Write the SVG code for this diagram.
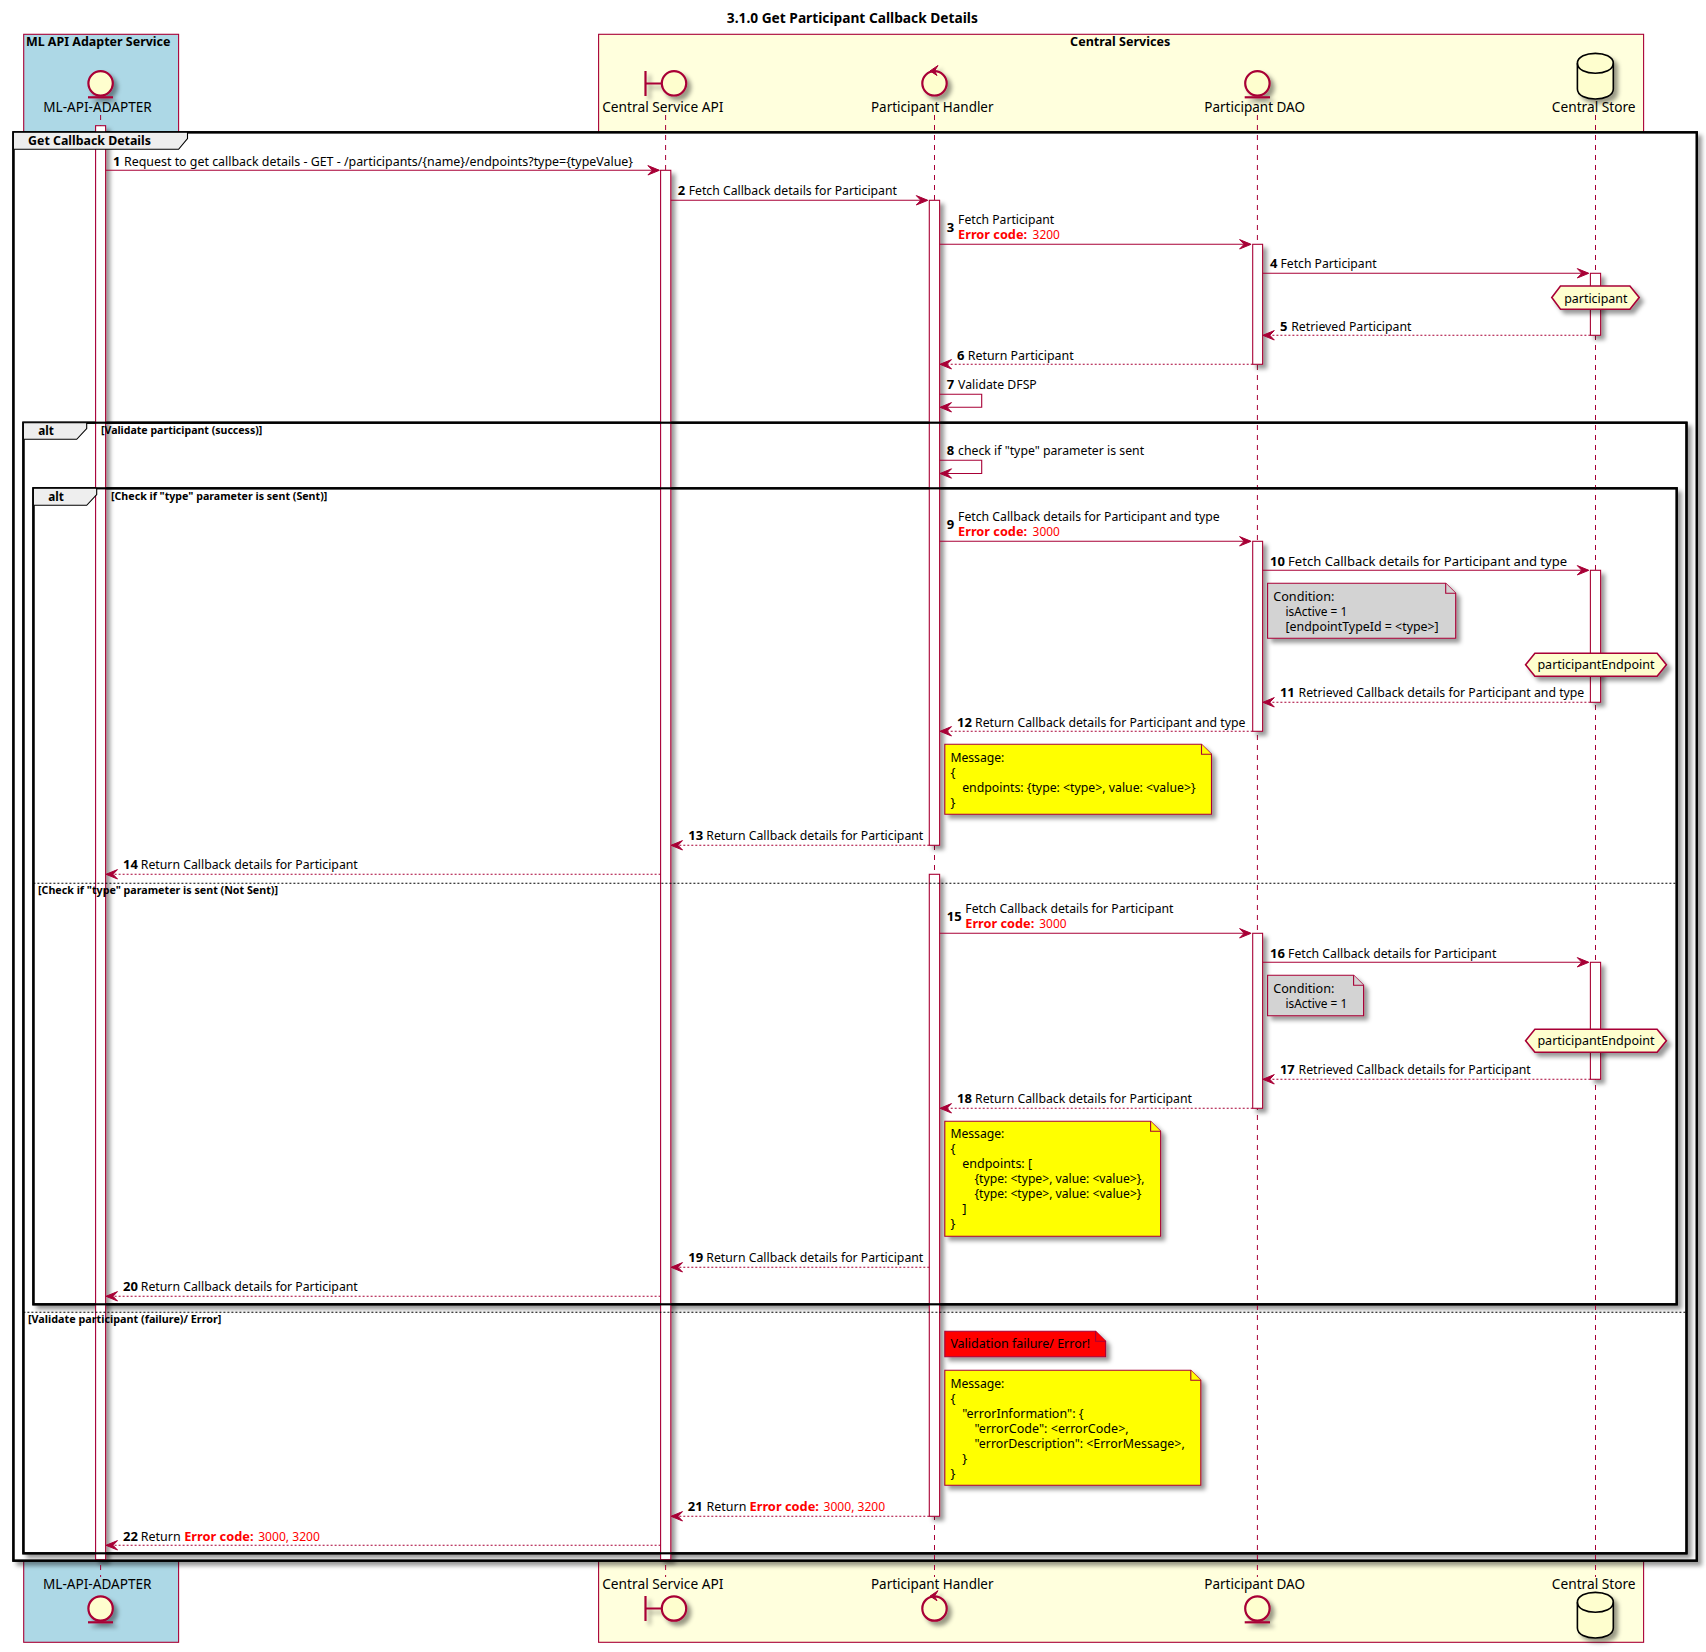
<svg xmlns="http://www.w3.org/2000/svg" width="1706" height="1652" viewBox="0 0 1706 1652">
<defs>
<filter id="sh" x="-1" y="-1" width="300%" height="300%"><feGaussianBlur stdDeviation="2" result="b"/><feColorMatrix in="b" result="c" type="matrix" values="0 0 0 0 0 0 0 0 0 0 0 0 0 0 0 0 0 0 .4 0"/><feOffset dx="4" dy="4" in="c" result="o"/><feBlend in="SourceGraphic" in2="o" mode="normal"/></filter>
<g id="arrR"><polygon points="-11.5,-4.7 0,0 -11.5,4.7 -7,0" fill="#A80036" stroke="#A80036"/></g>
<g id="arrL"><polygon points="11.5,-4.7 0,0 11.5,4.7 7,0" fill="#A80036" stroke="#A80036"/></g>
</defs>
<style>
text{font-family:"Noto Sans","Open Sans",sans-serif;font-size:13px;fill:#000}
.b{font-weight:700}
.t{font-size:14px;font-weight:700}
.g{font-size:11px;font-weight:700}
.a{font-size:14px}
.e{fill:#f00}
.l{fill:none;stroke:#A80036;stroke-width:1;stroke-dasharray:5 5}
.act{fill:#fff;stroke:#A80036;stroke-width:1.1}
.m{fill:none;stroke:#A80036;stroke-width:1.1}
.d{fill:none;stroke:#A80036;stroke-width:1.1;stroke-dasharray:2 2}
.bg{fill:#fff;stroke:#000;stroke-width:2.2}
.fr{fill:none;stroke:#000;stroke-width:2.2}
.tab{fill:#EEE;stroke:#000;stroke-width:1.1}
.dv{stroke:#000;stroke-width:1.1;stroke-dasharray:2 2}
.ic{fill:#FEFECE;stroke:#A80036;stroke-width:2.2}
.n{stroke:#A80036;stroke-width:1.1}
.h{fill:#FEFECE;stroke:#A80036;stroke-width:1.6}
</style>
<text class="t" x="726.8" y="23" textLength="251" lengthAdjust="spacingAndGlyphs" id="title">3.1.0 Get Participant Callback Details</text>
<g id="box-adapter"><rect x="23.7" y="34.3" width="154.9" height="1608" fill="#ADD8E6" stroke="#A80036" stroke-width="1.1"/><text class="b" x="25.9" y="46" textLength="144.6" lengthAdjust="spacingAndGlyphs">ML API Adapter Service</text></g>
<g id="box-central"><rect x="598.6" y="34.3" width="1045" height="1608" fill="#FFFFDD" stroke="#A80036" stroke-width="1.1"/><text class="b" x="1070.1" y="46" textLength="100.2" lengthAdjust="spacingAndGlyphs">Central Services</text></g>
<g id="frame-backs">
<rect class="bg" x="13.4" y="132.3" width="1683.4" height="1428.4" filter="url(#sh)"/>
<rect class="bg" x="23.4" y="422.7" width="1663.1" height="1130.6" filter="url(#sh)"/>
<rect class="bg" x="33.4" y="488.3" width="1643.3" height="816" filter="url(#sh)"/>
</g>
<g id="lifelines">
<path class="l" d="M100.6 115V1577M665.6 115V1577M934.5 115V1577M1257.4 115V1577M1595.5 115V1577"/>
</g>
<g id="activations" filter="url(#sh)">
<rect class="act" x="95.6" y="125.7" width="10" height="1434"/>
<rect class="act" x="660.6" y="170.3" width="10.2" height="1389.4"/>
<rect class="act" x="929.3" y="200.3" width="10.3" height="645"/>
<rect class="act" x="929.3" y="874.3" width="10.3" height="642"/>
<rect class="act" x="1252.7" y="244.3" width="9.9" height="120"/>
<rect class="act" x="1252.7" y="541.3" width="9.9" height="190"/>
<rect class="act" x="1252.7" y="933.3" width="9.9" height="175"/>
<rect class="act" x="1590.4" y="273.3" width="10.2" height="62"/>
<rect class="act" x="1590.4" y="570.3" width="10.2" height="132"/>
<rect class="act" x="1590.4" y="962.3" width="10.2" height="117"/>
</g>
<g id="frames">
<rect class="fr" x="13.4" y="132.3" width="1683.4" height="1428.4"/>
<path class="tab" d="M13.4 132.3H187.5V138.5L178.6 149.3H13.4Z"/>
<text class="b" x="28.1" y="145" textLength="122.8" lengthAdjust="spacingAndGlyphs">Get Callback Details</text>
<rect class="fr" x="23.4" y="422.7" width="1663.1" height="1130.6"/>
<path class="tab" d="M23.4 422.7H86.7V428.5L76.7 439.3H23.4Z"/>
<text class="b" x="38.3" y="435" textLength="15.7" lengthAdjust="spacingAndGlyphs">alt</text>
<text class="g" x="101" y="434" textLength="161.3" lengthAdjust="spacingAndGlyphs">[Validate participant (success)]</text>
<rect class="fr" x="33.4" y="488.3" width="1643.3" height="816"/>
<path class="tab" d="M33.4 488.3H96.7V494.5L86.7 505.3H33.4Z"/>
<text class="b" x="48.3" y="501" textLength="15.7" lengthAdjust="spacingAndGlyphs">alt</text>
<text class="g" x="111" y="500" textLength="216.3" lengthAdjust="spacingAndGlyphs">[Check if "type" parameter is sent (Sent)]</text>
<line class="dv" x1="33.4" y1="883.3" x2="1676.7" y2="883.3"/>
<text class="g" x="38" y="894" textLength="240" lengthAdjust="spacingAndGlyphs">[Check if "type" parameter is sent (Not Sent)]</text>
<line class="dv" x1="23.4" y1="1312.3" x2="1686.5" y2="1312.3"/>
<text class="g" x="28" y="1322.7" textLength="193.4" lengthAdjust="spacingAndGlyphs">[Validate participant (failure)/ Error]</text>
</g>
<g id="connectors">
<path class="m" d="M105.6 170.3H659"/><use href="#arrR" x="659.4" y="170.3"/>
<text class="b" x="113" y="165.7">1</text><text x="124" y="165.7" textLength="509" lengthAdjust="spacingAndGlyphs">Request to get callback details - GET - /participants/{name}/endpoints?type={typeValue}</text>
<path class="m" d="M670.8 200.3H927"/><use href="#arrR" x="927.8" y="200.3"/>
<text class="b" x="677.8" y="195">2</text><text x="688.7" y="195" textLength="208.2" lengthAdjust="spacingAndGlyphs">Fetch Callback details for Participant</text>
<path class="m" d="M939.6 244.3H1250"/><use href="#arrR" x="1251.1" y="244.3"/>
<text class="b" x="946.8" y="231.7">3</text><text x="958.1" y="224" textLength="96.1" lengthAdjust="spacingAndGlyphs">Fetch Participant</text><text class="b e" x="958.1" y="238.7" textLength="69" lengthAdjust="spacingAndGlyphs">Error code:</text><text class="e" x="1032.6" y="238.7" textLength="27.2" lengthAdjust="spacingAndGlyphs">3200</text>
<path class="m" d="M1262.6 273.3H1588"/><use href="#arrR" x="1588.8" y="273.3"/>
<text class="b" x="1270.1" y="267.7">4</text><text x="1280.5" y="267.7" textLength="96.1" lengthAdjust="spacingAndGlyphs">Fetch Participant</text>
<path class="d" d="M1590.4 335.3H1264"/><use href="#arrL" x="1262.8" y="335.3"/>
<text class="b" x="1279.9" y="331">5</text><text x="1291.2" y="331" textLength="120.2" lengthAdjust="spacingAndGlyphs">Retrieved Participant</text>
<path class="d" d="M1252.7 364.3H941"/><use href="#arrL" x="940" y="364.3"/>
<text class="b" x="957.1" y="360">6</text><text x="967.8" y="360" textLength="105.9" lengthAdjust="spacingAndGlyphs">Return Participant</text>
<path class="m" d="M939.6 394.3H981.7V407.3H941"/><use href="#arrL" x="940" y="407.3"/>
<text class="b" x="946.8" y="389">7</text><text x="958.1" y="389" textLength="78.7" lengthAdjust="spacingAndGlyphs">Validate DFSP</text>
<path class="m" d="M939.6 460.3H981.7V473.5H941"/><use href="#arrL" x="940" y="473.5"/>
<text class="b" x="946.8" y="455">8</text><text x="958.1" y="455" textLength="186" lengthAdjust="spacingAndGlyphs">check if "type" parameter is sent</text>
<path class="m" d="M939.6 541.3H1250"/><use href="#arrR" x="1251.1" y="541.3"/>
<text class="b" x="946.8" y="528.7">9</text><text x="958.1" y="521" textLength="261.6" lengthAdjust="spacingAndGlyphs">Fetch Callback details for Participant and type</text><text class="b e" x="958.1" y="535.7" textLength="69" lengthAdjust="spacingAndGlyphs">Error code:</text><text class="e" x="1032.6" y="535.7" textLength="27.2" lengthAdjust="spacingAndGlyphs">3000</text>
<path class="m" d="M1262.6 570.3H1588"/><use href="#arrR" x="1588.8" y="570.3"/>
<text class="b" x="1270.1" y="565.7">10</text><text x="1288.1" y="565.7" textLength="279" lengthAdjust="spacingAndGlyphs">Fetch Callback details for Participant and type</text>
<path class="d" d="M1590.4 702.3H1264"/><use href="#arrL" x="1262.8" y="702.3"/>
<text class="b" x="1279.9" y="696.7">11</text><text x="1298.5" y="696.7" textLength="285.8" lengthAdjust="spacingAndGlyphs">Retrieved Callback details for Participant and type</text>
<path class="d" d="M1252.7 731.3H941"/><use href="#arrL" x="940" y="731.3"/>
<text class="b" x="957.1" y="726.7">12</text><text x="975" y="726.7" textLength="270.4" lengthAdjust="spacingAndGlyphs">Return Callback details for Participant and type</text>
<path class="d" d="M929.3 845.3H672"/><use href="#arrL" x="671" y="845.3"/>
<text class="b" x="688.3" y="840">13</text><text x="706.3" y="840" textLength="217" lengthAdjust="spacingAndGlyphs">Return Callback details for Participant</text>
<path class="d" d="M660.6 874.3H107"/><use href="#arrL" x="106" y="874.3"/>
<text class="b" x="123" y="869">14</text><text x="140.8" y="869" textLength="217" lengthAdjust="spacingAndGlyphs">Return Callback details for Participant</text>
<path class="m" d="M939.6 933.3H1250"/><use href="#arrR" x="1251.1" y="933.3"/>
<text class="b" x="946.8" y="920.7">15</text><text x="965.3" y="913" textLength="208.2" lengthAdjust="spacingAndGlyphs">Fetch Callback details for Participant</text><text class="b e" x="965.3" y="927.7" textLength="69" lengthAdjust="spacingAndGlyphs">Error code:</text><text class="e" x="1039.3" y="927.7" textLength="27.2" lengthAdjust="spacingAndGlyphs">3000</text>
<path class="m" d="M1262.6 962.3H1588"/><use href="#arrR" x="1588.8" y="962.3"/>
<text class="b" x="1270.1" y="957.7">16</text><text x="1288.1" y="957.7" textLength="208.2" lengthAdjust="spacingAndGlyphs">Fetch Callback details for Participant</text>
<path class="d" d="M1590.4 1079.3H1264"/><use href="#arrL" x="1262.8" y="1079.3"/>
<text class="b" x="1279.9" y="1073.7">17</text><text x="1298.5" y="1073.7" textLength="232.3" lengthAdjust="spacingAndGlyphs">Retrieved Callback details for Participant</text>
<path class="d" d="M1252.7 1108.3H941"/><use href="#arrL" x="940" y="1108.3"/>
<text class="b" x="957.1" y="1103">18</text><text x="975" y="1103" textLength="217" lengthAdjust="spacingAndGlyphs">Return Callback details for Participant</text>
<path class="d" d="M929.3 1267.3H672"/><use href="#arrL" x="671" y="1267.3"/>
<text class="b" x="688.3" y="1262">19</text><text x="706.3" y="1262" textLength="217" lengthAdjust="spacingAndGlyphs">Return Callback details for Participant</text>
<path class="d" d="M660.6 1296.3H107"/><use href="#arrL" x="106" y="1296.3"/>
<text class="b" x="123" y="1291">20</text><text x="140.8" y="1291" textLength="217" lengthAdjust="spacingAndGlyphs">Return Callback details for Participant</text>
<path class="d" d="M929.3 1516.3H672"/><use href="#arrL" x="671" y="1516.3"/>
<text class="b" x="687.8" y="1510.7">21</text><text x="706.6" y="1510.7" textLength="39.8" lengthAdjust="spacingAndGlyphs">Return</text><text class="b e" x="749.5" y="1510.7" textLength="69.4" lengthAdjust="spacingAndGlyphs">Error code:</text><text class="e" x="823.5" y="1510.7" textLength="61.7" lengthAdjust="spacingAndGlyphs">3000, 3200</text>
<path class="d" d="M660.6 1545.3H107"/><use href="#arrL" x="106" y="1545.3"/>
<text class="b" x="123" y="1541">22</text><text x="140.8" y="1541" textLength="39.8" lengthAdjust="spacingAndGlyphs">Return</text><text class="b e" x="184.2" y="1541" textLength="69.4" lengthAdjust="spacingAndGlyphs">Error code:</text><text class="e" x="258.2" y="1541" textLength="61.7" lengthAdjust="spacingAndGlyphs">3000, 3200</text>
</g>
<g id="ref-participant"><polygon class="h" points="1551.8,297.6 1560.5,286 1629.9,286 1639.2,297.6 1629.9,309.3 1560.5,309.3" filter="url(#sh)"/><text x="1564.2" y="303" textLength="63.3" lengthAdjust="spacingAndGlyphs">participant</text></g>
<g id="ref-endpoint-1"><polygon class="h" points="1525.6,664.8 1534.9,653.3 1657.1,653.3 1666.4,664.8 1657.1,676.3 1534.9,676.3" filter="url(#sh)"/><text x="1537.4" y="668.7" textLength="117.2" lengthAdjust="spacingAndGlyphs">participantEndpoint</text></g>
<g id="ref-endpoint-2"><polygon class="h" points="1525.6,1040.8 1534.9,1029.3 1657.1,1029.3 1666.4,1040.8 1657.1,1052.3 1534.9,1052.3" filter="url(#sh)"/><text x="1537.4" y="1045.3" textLength="117.2" lengthAdjust="spacingAndGlyphs">participantEndpoint</text></g>
<g id="note-cond-1"><path class="n" fill="#D3D3D3" filter="url(#sh)" d="M1267.6 583.3H1445.7L1455.7 593.3V638.3H1267.6Z"/><path class="n" fill="#D3D3D3" d="M1445.7 583.3V593.3H1455.7"/><text x="1273.2" y="600.7" textLength="61.2" lengthAdjust="spacingAndGlyphs">Condition:</text><text x="1285.5" y="615.7" textLength="61.7" lengthAdjust="spacingAndGlyphs">isActive = 1</text><text x="1285.5" y="630.7" textLength="153.2" lengthAdjust="spacingAndGlyphs">[endpointTypeId = &lt;type&gt;]</text></g>
<g id="note-msg-1"><path class="n" fill="#FF0" filter="url(#sh)" d="M944.8 744.3H1201.5L1211.5 754.3V814.3H944.8Z"/><path class="n" fill="#FF0" d="M1201.5 744.3V754.3H1211.5"/><text x="950.4" y="761.7" textLength="54" lengthAdjust="spacingAndGlyphs">Message:</text><text x="950.4" y="776.7">{</text><text x="962.2" y="791.7" textLength="233.4" lengthAdjust="spacingAndGlyphs">endpoints: {type: &lt;type&gt;, value: &lt;value&gt;}</text><text x="950.4" y="806.7">}</text></g>
<g id="note-cond-2"><path class="n" fill="#D3D3D3" filter="url(#sh)" d="M1267.6 975.3H1353.6L1363.6 985.3V1015.7H1267.6Z"/><path class="n" fill="#D3D3D3" d="M1353.6 975.3V985.3H1363.6"/><text x="1273.2" y="992.7" textLength="61.2" lengthAdjust="spacingAndGlyphs">Condition:</text><text x="1285.5" y="1007.7" textLength="61.7" lengthAdjust="spacingAndGlyphs">isActive = 1</text></g>
<g id="note-msg-2"><path class="n" fill="#FF0" filter="url(#sh)" d="M944.8 1121.3H1150.6L1160.6 1131.3V1236.3H944.8Z"/><path class="n" fill="#FF0" d="M1150.6 1121.3V1131.3H1160.6"/><text x="950.4" y="1138.3" textLength="54" lengthAdjust="spacingAndGlyphs">Message:</text><text x="950.4" y="1153.3">{</text><text x="962.2" y="1168.3" textLength="69.9" lengthAdjust="spacingAndGlyphs">endpoints: [</text><text x="974.5" y="1183.3" textLength="170.1" lengthAdjust="spacingAndGlyphs">{type: &lt;type&gt;, value: &lt;value&gt;},</text><text x="974.5" y="1198.3" textLength="167" lengthAdjust="spacingAndGlyphs">{type: &lt;type&gt;, value: &lt;value&gt;}</text><text x="962.2" y="1213.3">]</text><text x="950.4" y="1228.3">}</text></g>
<g id="note-fail"><path class="n" fill="#F00" filter="url(#sh)" d="M944.8 1331.3H1095.6L1105.6 1341.3V1356.7H944.8Z"/><path class="n" fill="#F00" d="M1095.6 1331.3V1341.3H1105.6"/><text x="950.4" y="1347.7" textLength="139.8" lengthAdjust="spacingAndGlyphs">Validation failure/ Error!</text></g>
<g id="note-msg-3"><path class="n" fill="#FF0" filter="url(#sh)" d="M944.8 1370.3H1190.8L1200.8 1380.3V1485.3H944.8Z"/><path class="n" fill="#FF0" d="M1190.8 1370.3V1380.3H1200.8"/><text x="950.4" y="1387.7" textLength="54" lengthAdjust="spacingAndGlyphs">Message:</text><text x="950.4" y="1402.7">{</text><text x="962.2" y="1417.7" textLength="121.3" lengthAdjust="spacingAndGlyphs">"errorInformation": {</text><text x="974.5" y="1432.7" textLength="154.2" lengthAdjust="spacingAndGlyphs">"errorCode": &lt;errorCode&gt;,</text><text x="974.5" y="1447.7" textLength="210.2" lengthAdjust="spacingAndGlyphs">"errorDescription": &lt;ErrorMessage&gt;,</text><text x="962.2" y="1462.7">}</text><text x="950.4" y="1477.7">}</text></g>
<g id="actor-adapter-top"><g filter="url(#sh)"><circle class="ic" cx="100.6" cy="83.3" r="12.2"/><line class="ic" x1="88" y1="97.3" x2="113" y2="97.3"/></g><text class="a" x="43.3" y="111.7" textLength="108.5" lengthAdjust="spacingAndGlyphs">ML-API-ADAPTER</text></g>
<g id="actor-adapter-bottom"><g filter="url(#sh)"><circle class="ic" cx="100.6" cy="1608.5" r="12.2"/><line class="ic" x1="88" y1="1622.3" x2="113" y2="1622.3"/></g><text class="a" x="43" y="1589.3" textLength="108.5" lengthAdjust="spacingAndGlyphs">ML-API-ADAPTER</text></g>
<g id="actor-api-top"><g filter="url(#sh)"><path class="ic" d="M645.5 71V96M645.5 83.5H662"/><circle class="ic" cx="674" cy="83.3" r="12.2"/></g><text class="a" x="602.2" y="111.7" textLength="121.3" lengthAdjust="spacingAndGlyphs">Central Service API</text></g>
<g id="actor-api-bottom"><g filter="url(#sh)"><path class="ic" d="M645.5 1596V1621M645.5 1608.5H662"/><circle class="ic" cx="674" cy="1608.5" r="12.2"/></g><text class="a" x="602.2" y="1589.3" textLength="121.3" lengthAdjust="spacingAndGlyphs">Central Service API</text></g>
<g id="actor-handler-top"><g filter="url(#sh)"><circle class="ic" cx="934.5" cy="83.3" r="12.2"/><polygon points="938,65.5 930,70.9 937,75.5 934.5,71" fill="#A80036" stroke="#A80036"/></g><text class="a" x="871" y="111.7" textLength="122.5" lengthAdjust="spacingAndGlyphs">Participant Handler</text></g>
<g id="actor-handler-bottom"><g filter="url(#sh)"><circle class="ic" cx="934.5" cy="1608.5" r="12.2"/><polygon points="938,1590.7 930,1596.1 937,1600.7 934.5,1596.2" fill="#A80036" stroke="#A80036"/></g><text class="a" x="871" y="1589.3" textLength="122.5" lengthAdjust="spacingAndGlyphs">Participant Handler</text></g>
<g id="actor-dao-top"><g filter="url(#sh)"><circle class="ic" cx="1257.4" cy="83.3" r="12.2"/><line class="ic" x1="1244.7" y1="97.3" x2="1270" y2="97.3"/></g><text class="a" x="1204.3" y="111.7" textLength="100.7" lengthAdjust="spacingAndGlyphs">Participant DAO</text></g>
<g id="actor-dao-bottom"><g filter="url(#sh)"><circle class="ic" cx="1257.4" cy="1608.5" r="12.2"/><line class="ic" x1="1244.7" y1="1622.3" x2="1270" y2="1622.3"/></g><text class="a" x="1204.3" y="1589.3" textLength="100.7" lengthAdjust="spacingAndGlyphs">Participant DAO</text></g>
<g id="actor-store-top"><g filter="url(#sh)"><path fill="#FEFECE" stroke="#000" stroke-width="1.6" d="M1577.4 63.3C1577.4 50 1613.3 50 1613.3 63.3V89C1613.3 102.3 1577.4 102.3 1577.4 89Z"/><path fill="none" stroke="#000" stroke-width="1.6" d="M1577.4 63.3C1577.4 76.6 1613.3 76.6 1613.3 63.3"/></g><text class="a" x="1551.8" y="111.7" textLength="83.8" lengthAdjust="spacingAndGlyphs">Central Store</text></g>
<g id="actor-store-bottom"><g filter="url(#sh)"><path fill="#FEFECE" stroke="#000" stroke-width="1.6" d="M1577.4 1602.3C1577.4 1589 1613.3 1589 1613.3 1602.3V1628C1613.3 1641.3 1577.4 1641.3 1577.4 1628Z"/><path fill="none" stroke="#000" stroke-width="1.6" d="M1577.4 1602.3C1577.4 1615.6 1613.3 1615.6 1613.3 1602.3"/></g><text class="a" x="1551.8" y="1589.3" textLength="83.8" lengthAdjust="spacingAndGlyphs">Central Store</text></g>
</svg>
